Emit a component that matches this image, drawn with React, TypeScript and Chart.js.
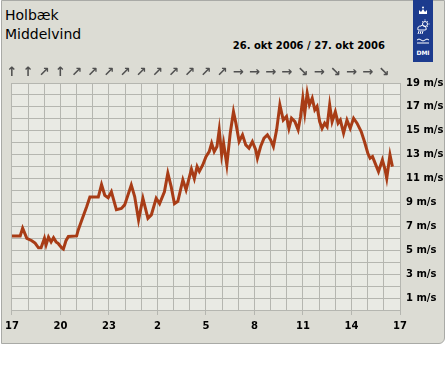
import React, { useEffect, useRef } from 'react';
import { Chart, registerables } from 'chart.js';

Chart.register(...registerables);

// Hours after 17:00 on 26 Oct 2006
const hours = [
  0, 0.51, 0.66, 0.92, 1.23, 1.43, 1.64, 1.8, 2.01, 2.11,
  2.26, 2.42, 2.57, 2.73, 2.87, 3.08, 3.18, 3.34, 3.49, 4.0,
  4.1, 4.31, 4.62, 4.82, 5.34, 5.54, 5.74, 5.95, 6.15, 6.46,
  6.77, 6.97, 7.38, 7.59, 7.83, 8.1, 8.41, 8.62, 8.92, 9.13,
  9.43, 9.64, 9.85, 10.05, 10.26, 10.57, 10.77, 11.1, 11.28, 11.45,
  11.59, 11.8, 12.0, 12.2, 12.35, 12.51, 12.68, 12.82, 12.97, 13.09,
  13.29, 13.5, 13.7, 13.85, 14.05, 14.26, 14.46, 14.66, 14.87, 15.08,
  15.18, 15.38, 15.59, 15.8, 16.0, 16.17, 16.37, 16.57, 16.78, 16.98,
  17.13, 17.29, 17.5, 17.7, 17.85, 17.99, 18.11, 18.26, 18.4, 18.57,
  18.73, 18.87, 19.03, 19.18, 19.34, 19.49, 19.65, 19.8, 20.0, 20.17,
  20.31, 20.51, 20.72, 20.92, 21.13, 21.34, 21.6, 21.8, 22.01, 22.15,
  22.3, 22.46, 22.67, 22.91, 23.08, 23.18, 23.38, 23.53,
];

// Mean wind speed (m/s)
const speeds = [
  6.2, 6.2, 6.85, 6.0, 5.8, 5.6, 5.2, 5.2, 6.0, 5.45,
  6.1, 5.7, 6.05, 5.7, 5.55, 5.2, 5.1, 5.8, 6.15, 6.2,
  6.7, 7.5, 8.65, 9.45, 9.45, 10.5, 9.6, 9.4, 9.9, 8.4,
  8.5, 8.8, 10.47, 9.5, 7.54, 9.35, 7.68, 7.96, 9.35, 8.9,
  9.9, 11.45, 10.3, 8.9, 9.1, 10.9, 10.05, 11.8, 11.0, 12.0,
  11.6, 12.14, 12.84, 13.26, 13.96, 13.26, 13.68, 15.08, 12.98, 13.96,
  12.14, 14.8, 16.6, 15.64, 14.1, 14.66, 13.82, 13.54, 14.1, 13.4,
  12.7, 13.68, 14.38, 14.66, 14.24, 13.68, 15.08, 17.17, 15.9, 16.2,
  15.2, 16.05, 15.77, 15.08, 16.2, 17.73, 16.47, 18.15, 17.17, 17.73,
  16.75, 17.03, 15.77, 15.2, 15.64, 15.35, 17.17, 15.77, 16.6, 15.64,
  15.9, 14.8, 15.9, 15.2, 16.05, 15.64, 14.94, 14.1, 13.12, 12.7,
  12.84, 12.29, 11.58, 12.56, 11.73, 11.03, 12.98, 12.0,
];

// Hourly wind direction arrows (one per hour starting 17:00)
const windArrows = [
  '↑', '↑', '↗', '↑', '↗', '↗', '↗', '↗', '↗', '↗', '↗', '↗',
  '↗', '↗', '→', '→', '→', '→', '↘', '→', '↘', '→', '→', '↘',
];

const START_HOUR = 17;
const HOUR_SPAN = 24;
const LABEL_EVERY = 3;
const Y_MAX = 19;
const UNIT = 'm/s';
const titleLines = ['Holbæk', 'Middelvind'];
const dateText = '26. okt 2006 / 27. okt 2006';

const FONT = '"DejaVu Sans", Verdana, sans-serif';
const GRID = '#b5b6b0';

const plotBg = {
  id: 'plotBg',
  beforeDraw(chart: any) {
    const { ctx, chartArea } = chart;
    ctx.save();
    ctx.fillStyle = '#e9eae4';
    ctx.fillRect(chartArea.left, chartArea.top, chartArea.right - chartArea.left, chartArea.bottom - chartArea.top);
    ctx.restore();
  },
};

function WindChart() {
  const ref = useRef<HTMLCanvasElement | null>(null);
  useEffect(() => {
    if (!ref.current) return;
    const chart = new Chart(ref.current, {
      type: 'line',
      data: {
        datasets: [
          {
            data: hours.map((h, i) => ({ x: h, y: speeds[i] })),
            borderColor: '#a83c16',
            borderWidth: 3,
            pointRadius: 0,
            tension: 0,
            fill: false,
            xAxisID: 'x',
            yAxisID: 'y',
          },
        ],
      },
      options: {
        animation: false,
        responsive: false,
        maintainAspectRatio: false,
        layout: { padding: { left: 10, top: 66, right: 0, bottom: 38 } },
        plugins: { legend: { display: false }, tooltip: { enabled: false }, title: { display: false } },
        scales: {
          x: {
            type: 'linear',
            position: 'bottom',
            min: 0,
            max: HOUR_SPAN,
            afterFit: (s: any) => { s.height = 22; },
            ticks: {
              stepSize: 1,
              autoSkip: false,
              maxRotation: 0,
              padding: 5,
              color: '#000',
              font: { family: FONT, size: 10, weight: 'bold' },
              callback: (v: any) => (v % LABEL_EVERY === 0 ? String((START_HOUR + v) % 24) : ''),
            },
            grid: {
              color: GRID,
              lineWidth: 1,
              drawTicks: true,
              tickLength: 5,
              tickColor: (c: any) => (c.tick && c.tick.value % LABEL_EVERY === 0 ? GRID : 'rgba(0,0,0,0)'),
            },
            border: { display: true, color: GRID },
          },
          top: {
            type: 'linear',
            position: 'top',
            min: 0,
            max: HOUR_SPAN,
            afterFit: (s: any) => { s.height = 17; },
            ticks: {
              stepSize: 1,
              autoSkip: false,
              maxRotation: 0,
              padding: 3,
              color: '#505050',
              font: { family: FONT, size: 13, weight: 'bold' },
              callback: (v: any) => windArrows[v] ?? '',
            },
            grid: { display: false, drawTicks: false },
            border: { display: false },
          },
          y: {
            type: 'linear',
            position: 'right',
            min: 0,
            max: Y_MAX,
            afterFit: (s: any) => { s.width = 47; },
            ticks: {
              stepSize: 1,
              autoSkip: false,
              padding: 6,
              color: '#000',
              font: { family: FONT, size: 10, weight: 'bold' },
              callback: (v: any) => (v % 2 === 1 ? `${v} ${UNIT}` : ''),
            },
            grid: { color: GRID, lineWidth: 1, drawTicks: false },
            border: { display: true, color: GRID },
          },
        },
      },
      plugins: [plotBg],
    } as any);
    return () => chart.destroy();
  }, []);
  return (
    <canvas
      ref={ref}
      width={447}
      height={370}
      style={{ position: 'absolute', left: 0, top: 0, width: 447, height: 370 }}
    />
  );
}

function Logo() {
  return (
    <svg width={20} height={62} style={{ position: 'absolute', left: 413, top: 0 }}>
      <rect x={0} y={0} width={20} height={62} fill="#1c3b8e" />
      {/* crown */}
      <path d="M6 14 L6 10 L8 12 L10 9 L12 12 L14 10 L14 14 Z" fill="#fff" />
      <circle cx={10} cy={7.5} r={1} fill="#fff" />
      {/* sun */}
      <circle cx={12} cy={24} r={2.5} fill="none" stroke="#fff" strokeWidth={1} />
      <path d="M12 19.5 L12 20.5 M16.5 24 L15.5 24 M15 21 L14.3 21.7 M15 27 L14.3 26.3 M9 21 L9.7 21.7" stroke="#fff" strokeWidth={1} />
      {/* cloud */}
      <path d="M5 30 Q4 26 8 26 Q9 24 11 26 Q13 26 13 28 Q14 30 12 30 Z" fill="none" stroke="#fff" strokeWidth={1} />
      <path d="M6 31 L5 34 M8 31 L7 34 M10 31 L9 34" stroke="#fff" strokeWidth={1} />
      {/* waves */}
      <path d="M4 40 Q6 38 8 40 Q10 42 12 40 Q14 38 16 40" fill="none" stroke="#fff" strokeWidth={1} />
      <path d="M4 43 L16 43" stroke="#fff" strokeWidth={1} />
      <text x={10} y={55} textAnchor="middle" fill="#fff" fontFamily={FONT} fontSize={6} fontWeight="bold">
        DMI
      </text>
    </svg>
  );
}

export default function App() {
  return (
    <div style={{ position: 'fixed', left: 0, top: 0, width: 447, height: 370, background: '#fff', overflow: 'hidden' }}>
      <div
        style={{
          position: 'absolute',
          left: 1,
          top: 0,
          width: 442,
          height: 342,
          background: '#dcdcd4',
          border: '1px solid #a9aaa6',
          borderRadius: '0 0 6px 0',
        }}
      />
      <Logo />
      <div style={{ position: 'absolute', left: 5, top: 6, fontFamily: FONT, fontSize: 14, lineHeight: '19px', color: '#000' }}>
        {titleLines.map((t) => (
          <div key={t}>{t}</div>
        ))}
      </div>
      <div
        style={{
          position: 'absolute',
          right: 62,
          top: 39,
          fontFamily: FONT,
          fontSize: 10,
          fontWeight: 'bold',
          lineHeight: '13px',
          color: '#000',
          whiteSpace: 'nowrap',
        }}
      >
        {dateText}
      </div>
      <WindChart />
    </div>
  );
}
